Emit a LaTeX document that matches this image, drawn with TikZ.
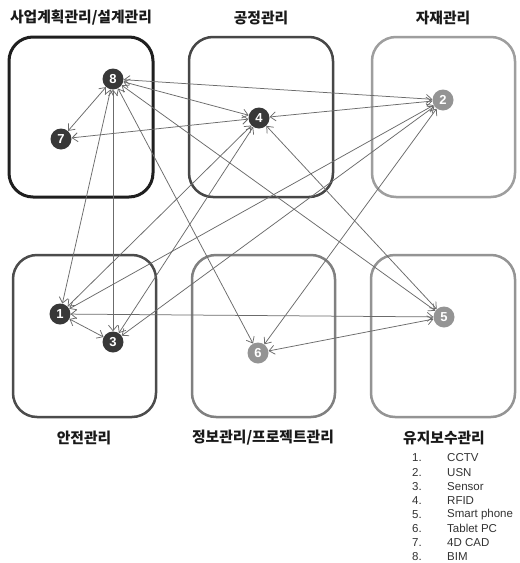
\documentclass[tikz,border=0pt]{standalone}
\usepackage{fontspec}
\setmainfont{Liberation Sans}
\newfontfamily\kr{Noto Sans CJK KR}
\usetikzlibrary{arrows.meta}
\begin{document}
\begin{tikzpicture}[x=1pt,y=-1pt,
  region/.style={rounded corners=24pt, line width=2.5pt},
  dev/.style={circle, minimum size=21pt, inner sep=0pt, text=white, font=\bfseries\fontsize{13}{13}\selectfont},
  darkdev/.style={dev, fill=black!78},
  lightdev/.style={dev, fill=black!42},
  link/.style={draw=black!58, line width=0.75pt, {Straight Barb[length=5.5pt,width=9pt]}-{Straight Barb[length=5.5pt,width=9pt]}},
  title/.style={font=\kr\bfseries\fontsize{14.8}{15}\selectfont, text=black!90},
  legnum/.style={font=\fontsize{11.5}{12}\selectfont, anchor=west, text=black!80, inner sep=0pt},
  legtxt/.style={legnum}]
\useasboundingbox (0,0) rectangle (520,563);
\fill[white] (0,0) rectangle (520,563);

% regions
\draw[region, line width=3pt, draw=black!88] (9,37) rectangle (153,197);
\draw[region, draw=black!72] (189,37) rectangle (333,197);
\draw[region, draw=black!38] (372,37) rectangle (515,197);
\draw[region, draw=black!70] (13,255) rectangle (156,417);
\draw[region, draw=black!50] (192,255) rectangle (335,417);
\draw[region, draw=black!42] (371,255) rectangle (515,417);

% titles
\node[title] (t1) at (81,18) {사업계획관리/설계관리};
\node[title] (t2) at (261,18) {공정관리};
\node[title] (t3) at (443,18) {자재관리};
\node[title] (t4) at (84,438) {안전관리};
\node[title] (t5) at (263,438) {정보관리/프로젝트관리};
\node[title] (t6) at (444,438) {유지보수관리};

% devices
\node[darkdev] (n8) at (113,79) {8};
\node[darkdev] (n7) at (61,139) {7};
\node[darkdev] (n4) at (259,118) {4};
\node[lightdev] (n2) at (443,100) {2};
\node[darkdev] (n1) at (60,314) {1};
\node[darkdev] (n3) at (113,342) {3};
\node[lightdev] (n6) at (258,353) {6};
\node[lightdev] (n5) at (444,317) {5};

% links
\draw[link] (n8) -- (n2);
\draw[link] (n8) -- (n4);
\draw[link] (n8) -- (n7);
\draw[link] (n8) -- (n1);
\draw[link] (n8) -- (n3);
\draw[link] (n8) -- (n6);
\draw[link] (n8) -- (n5);
\draw[link] (n4) -- (n7);
\draw[link] (n4) -- (n2);
\draw[link] (n4) -- (n1);
\draw[link] (n4) -- (n3);
\draw[link] (n4) -- (n5);
\draw[link] (n2) -- (n1);
\draw[link] (n2) -- (n3);
\draw[link] (n2) -- (n6);
\draw[link] (n1) -- (n5);
\draw[link] (n1) -- (n3);
\draw[link] (n5) -- (n6);

% legend
\foreach \i/\t in {1/CCTV,2/USN,3/Sensor,4/RFID,5/Smart phone,6/Tablet PC,7/4D CAD,8/BIM}{
  \node[legnum] (l\i) at (412,{458+14.1*(\i-1)}) {\i.};
  \node[legtxt] (m\i) at (447,{458+14.1*(\i-1)}) {\t};
}
\end{tikzpicture}
\end{document}
